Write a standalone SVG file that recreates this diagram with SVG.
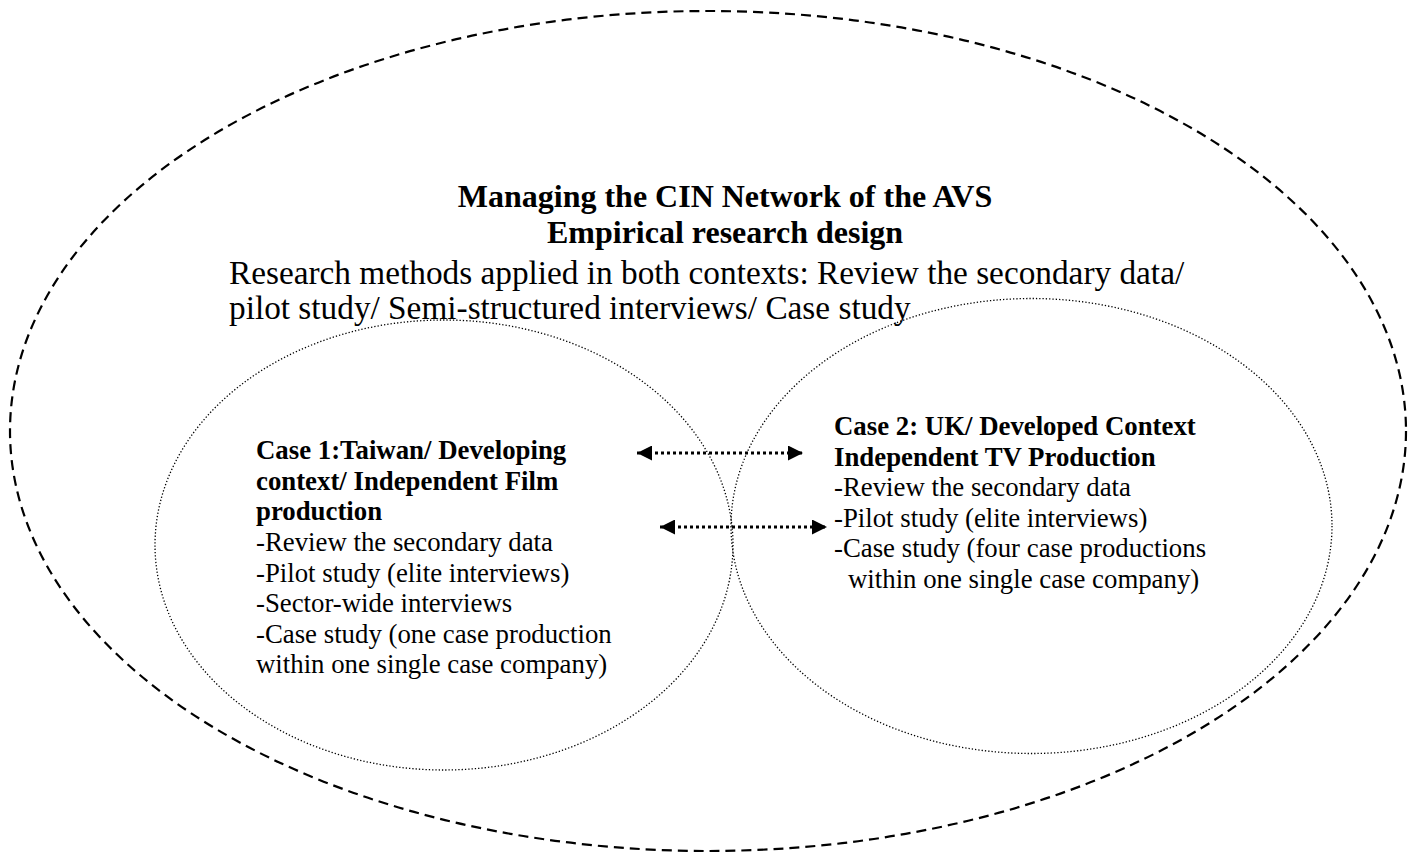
<svg xmlns="http://www.w3.org/2000/svg" width="1416" height="853" viewBox="0 0 1416 853">
<defs>
<style>
.outer{fill:none;stroke:#000;stroke-width:2.2;stroke-dasharray:10 6}
.inner{fill:none;stroke:#000;stroke-width:1.3;stroke-dasharray:1.3 2}
.conn{fill:none;stroke:#000;stroke-width:3;stroke-dasharray:3 3}
.t{font-family:"Liberation Serif","Times New Roman",serif;fill:#000}
.b{font-weight:bold}
</style>
<marker id="ah" viewBox="0 0 10 10" refX="10" refY="5" markerWidth="5" markerHeight="5" orient="auto-start-reverse" markerUnits="strokeWidth">
<path d="M0,0 L10,5 L0,10 Z" fill="#000"/>
</marker>
</defs>
<rect width="1416" height="853" fill="#fff"/>
<g id="outer-context">
<ellipse class="outer" cx="708" cy="431" rx="698" ry="420"/>
<text class="t b" x="725" y="207" font-size="32" text-anchor="middle">Managing the CIN Network of the AVS</text>
<text class="t b" x="725" y="243" font-size="32" text-anchor="middle">Empirical research design</text>
<text class="t" x="229" y="284" font-size="33.3">Research methods applied in both contexts: Review the secondary data/</text>
<text class="t" x="229" y="319" font-size="33.3">pilot study/ Semi-structured interviews/ Case study</text>
</g>
<g id="case1">
<ellipse class="inner" cx="444" cy="545" rx="289" ry="225"/>
<text class="t" font-size="26.8">
<tspan class="b" x="256" y="459">Case 1:Taiwan/ Developing</tspan>
<tspan class="b" x="256" y="489.6">context/ Independent Film</tspan>
<tspan class="b" x="256" y="520">production</tspan>
<tspan x="256" y="551">-Review the secondary data</tspan>
<tspan x="256" y="581.5">-Pilot study (elite interviews)</tspan>
<tspan x="256" y="612">-Sector-wide interviews</tspan>
<tspan x="256" y="642.5">-Case study (one case production</tspan>
<tspan x="256" y="673">within one single case company)</tspan>
</text>
</g>
<g id="case2">
<ellipse class="inner" cx="1031.5" cy="526" rx="300.5" ry="227.5"/>
<text class="t" font-size="26.8">
<tspan class="b" x="834" y="435">Case 2: UK/ Developed Context</tspan>
<tspan class="b" x="834" y="465.5">Independent TV Production</tspan>
<tspan x="834" y="496">-Review the secondary data</tspan>
<tspan x="834" y="526.5">-Pilot study (elite interviews)</tspan>
<tspan x="834" y="557">-Case study (four case productions</tspan>
<tspan x="848" y="587.5">within one single case company)</tspan>
</text>
</g>
<g id="connectors">
<line class="conn" x1="637" y1="453" x2="803" y2="453" marker-start="url(#ah)" marker-end="url(#ah)"/>
<line class="conn" x1="660" y1="527" x2="827" y2="527" marker-start="url(#ah)" marker-end="url(#ah)"/>
</g>
</svg>
